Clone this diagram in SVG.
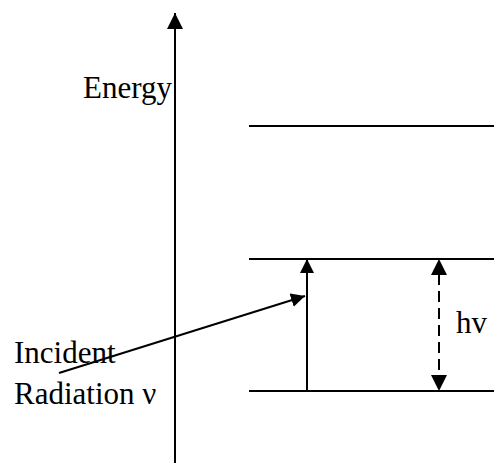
<svg xmlns="http://www.w3.org/2000/svg" width="494" height="463" viewBox="0 0 494 463">
<defs>
<style>
.ln{stroke:#000;stroke-width:2;fill:none}
.lbl{font-family:"Liberation Serif","Times New Roman",serif;font-size:31px;fill:#000}
</style>
<marker id="ah" viewBox="0 0 14 14" refX="14" refY="7" markerWidth="14" markerHeight="14" markerUnits="userSpaceOnUse" orient="auto">
<path d="M0,0 L14,7 L0,14 Z" fill="#000"/>
</marker>
<marker id="ahb" viewBox="0 0 16 16" refX="16" refY="8" markerWidth="16" markerHeight="16" markerUnits="userSpaceOnUse" orient="auto">
<path d="M0,0 L16,8 L0,16 Z" fill="#000"/>
</marker>
</defs>
<rect width="494" height="463" fill="#fff"/>
<g id="axis">
<line class="ln" x1="175" y1="463" x2="175" y2="13" marker-end="url(#ahb)"/>
<text class="lbl" x="83" y="98">Energy</text>
</g>
<g id="level-top"><line class="ln" x1="249" y1="126" x2="494" y2="126"/></g>
<g id="level-mid"><line class="ln" x1="249" y1="259" x2="494" y2="259"/></g>
<g id="level-bottom"><line class="ln" x1="249" y1="391" x2="494" y2="391"/></g>
<g id="incident-label">
<text class="lbl" x="14" y="363">Incident</text>
<text class="lbl" x="14" y="404">Radiation ν</text>
</g>
<g id="hv-label"><text class="lbl" x="456" y="333">hv</text></g>
<g id="connectors">
<line class="ln" x1="59" y1="373" x2="305" y2="296" marker-end="url(#ah)"/>
<line class="ln" x1="307" y1="391" x2="307" y2="259" marker-end="url(#ah)"/>
<line class="ln" x1="439" y1="274" x2="439" y2="376" stroke-dasharray="11,6"/>
<line class="ln" x1="439" y1="300" x2="439" y2="259" stroke-opacity="0" marker-end="url(#ahb)"/>
<line class="ln" x1="439" y1="350" x2="439" y2="391" stroke-opacity="0" marker-end="url(#ahb)"/>
</g>
</svg>
